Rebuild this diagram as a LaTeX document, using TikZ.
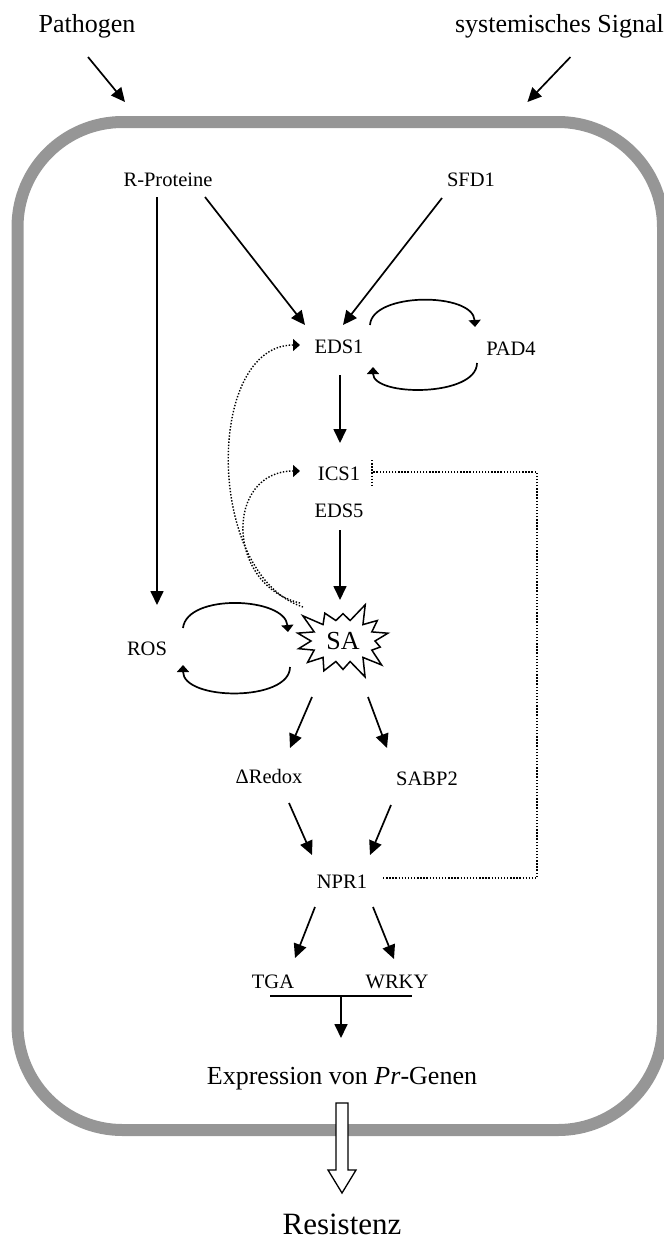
\documentclass[tikz,border=0pt]{standalone}
\usepackage{fontspec}
\setmainfont{Liberation Serif}
\usetikzlibrary{arrows.meta, shapes.symbols}
\definecolor{framegray}{gray}{0.59}

\begin{document}
\begin{tikzpicture}[
      x=1pt, y=-1pt,
      lbl/.style={inner sep=0pt, anchor=base, font=\fontsize{20.5}{24}\selectfont},
      biglbl/.style={inner sep=0pt, anchor=base, font=\fontsize{26}{30}\selectfont},
      sastar/.style={starburst, starburst points=14, starburst point height=20pt, random starburst=3,
        draw, line width=1.5pt, fill=white, minimum width=104pt, minimum height=82pt, inner sep=0pt,
        font=\fontsize{26}{30}\selectfont},
      arr/.style={line width=1.7pt, -{Triangle[length=14pt, width=13pt]}},
      looparr/.style={line width=1.7pt, -{Triangle[length=7pt, width=12pt]}},
      dotline/.style={line width=1.4pt, dash pattern=on 1.4pt off 1.7pt},
      dotarr/.style={dotline, -{Triangle[length=7pt, width=12pt]}},
      hollow/.style={line width=1.3pt, fill=white}
    ]
    \useasboundingbox (0,0) rectangle (664,1240);
    % cell
    \draw[framegray, line width=12pt, rounded corners=105pt] (17.5,122) rectangle (663,1130);

    \node[biglbl] (pathogen) at (87,32) {Pathogen};
    \node[biglbl, anchor=base east] (signal) at (664,32) {systemisches Signal};
    \node[lbl] (rprot) at (168,186) {R-Proteine};
    \node[lbl] (sfd1) at (471,186) {SFD1};
    \node[lbl] (eds1) at (339,353) {EDS1};
    \node[lbl] (pad4) at (511,355) {PAD4};
    \node[lbl] (ics1) at (339,480) {ICS1};
    \node[lbl] (eds5) at (339,517) {EDS5};
    \node[lbl] (ros) at (147,655) {ROS};
    \node[sastar] (sa) at (343,641) {SA};
    \node[lbl] (redox) at (269,783) {ΔRedox};
    \node[lbl] (sabp2) at (427,785) {SABP2};
    \node[lbl] (npr1) at (342,888) {NPR1};
    \node[lbl] (tga) at (273,988) {TGA};
    \node[lbl] (wrky) at (397,988) {WRKY};
    \node[biglbl] (expr) at (342,1084) {Expression von \textit{Pr}-Genen};
    \node[lbl, font=\fontsize{31}{36}\selectfont] (resist) at (342,1234) {Resistenz};

    % signals from outside
    \draw[arr] ([shift={(1,25)}]pathogen.base) -- ++(37,45);
    \draw[arr] ([shift={(11,25)}]signal.base) -- ++(-43,45);

    \draw[arr] ([shift={(-11,11)}]rprot.base) -- ([shift={(10,-50)}]ros.base);
    \draw[arr] ([shift={(37,11)}]rprot.base) -- ([shift={(-34,-28)}]eds1.base);
    \draw[arr] ([shift={(-29,12)}]sfd1.base) -- ([shift={(4,-28)}]eds1.base);

    % EDS1 <-> PAD4
    \draw[looparr] ([shift={(31,-28)}]eds1.base) .. controls +(2,-33) and +(-2,-35) .. ([shift={(-36,-28)}]pad4.base);
    \draw[looparr] ([shift={(-34,8)}]pad4.base) .. controls +(0,34) and +(0,30) .. ([shift={(34,14)}]eds1.base);

    \draw[arr] ([shift={(1,22)}]eds1.base) -- ([shift={(1,-37)}]ics1.base);
    \draw[arr] ([shift={(1,13)}]eds5.base) -- ([shift={(-3,-41)}]sa.center);

    % feedback of SA
    \draw[dotarr] ([shift={(-40,-34)}]sa.center) .. controls +(-98,-32) and +(-95,0) .. ([shift={(-39,-8)}]eds1.base);
    \draw[dotarr] ([shift={(-43,-38)}]sa.center) .. controls +(-75,-18) and +(-75,0) .. ([shift={(-39,-9)}]ics1.base);

    % ROS <-> SA
    \draw[looparr] ([shift={(36,-27)}]ros.base) .. controls +(4,-35) and +(-3,-35) .. ([shift={(-55,-9)}]sa.center);
    \draw[looparr] ([shift={(-53,26)}]sa.center) .. controls +(0,35) and +(0,36) .. ([shift={(36,10)}]ros.base);

    \draw[arr] ([shift={(-31,56)}]sa.center) -- ([shift={(21,-35)}]redox.base);
    \draw[arr] ([shift={(25,56)}]sa.center) -- ([shift={(-40,-37)}]sabp2.base);
    \draw[arr] ([shift={(20,20)}]redox.base) -- ([shift={(-30,-33)}]npr1.base);
    \draw[arr] ([shift={(-36,20)}]sabp2.base) -- ([shift={(28,-33)}]npr1.base);

    % NPR1 -| ICS1
    \draw[dotline] ([shift={(41,-10)}]npr1.base) -- ++(154,0) |- ([shift={(33,-8)}]ics1.base);
    \draw[dotline] ([shift={(33,-20)}]ics1.base) -- ++(0,25);

    \draw[arr] ([shift={(-27,19)}]npr1.base) -- ([shift={(22,-30)}]tga.base);
    \draw[arr] ([shift={(31,19)}]npr1.base) -- ([shift={(-3,-29)}]wrky.base);
    \draw[line width=1.7pt] ([shift={(-3,8)}]tga.base) -- coordinate (tw) ([shift={(15,8)}]wrky.base);
    \draw[arr] (tw) -- ([shift={(-1,-46)}]expr.base);

    \draw[hollow] ([shift={(-6,19)}]expr.base) -- ++(0,67) -- ++(-8,0) -- ++(14,23) -- ++(14,-23) -- ++(-8,0) -- ++(0,-67) -- cycle;
  \end{tikzpicture}
\end{document}
